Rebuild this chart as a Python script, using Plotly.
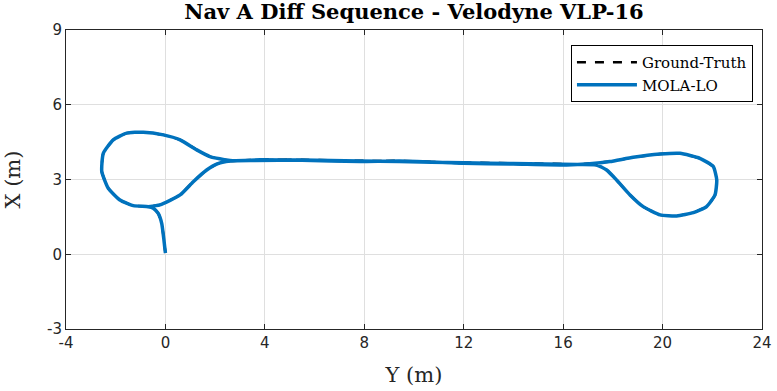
import plotly.graph_objects as go

# Trajectory (horizontal axis = Y [m], vertical axis = X [m])
mola_y = [0.0, -0.03, -0.06, -0.15, -0.29, -0.49, -0.69, -1.29, -1.83, -2.30, -2.56, -2.50, -2.10,
          -1.56, -0.89, -0.08, 0.59, 1.26, 1.79, 2.60, 3.81, 5.5, 7.83, 9.42, 11.98, 14.0,
          16.14, 17.07, 17.88, 18.82, 19.9, 20.7, 21.5, 22.04, 22.18, 22.11, 21.77, 21.24,
          20.57, 19.9, 19.22, 18.69, 18.15, 17.75, 17.35, 16.6, 14.0, 12.0, 9.4, 7.8, 5.5,
          3.6, 2.60, 2.06, 1.66, 1.12, 0.59, -0.22, -0.69]
mola_x = [0.05, 0.30, 0.57, 1.24, 1.64, 1.85, 1.91, 1.95, 2.18, 2.65, 3.32, 4.05, 4.59,
          4.86, 4.90, 4.79, 4.59, 4.19, 3.92, 3.76, 3.79, 3.77, 3.72, 3.74, 3.65, 3.62,
          3.58, 3.63, 3.72, 3.89, 4.02, 4.05, 3.85, 3.52, 2.98, 2.38, 1.91, 1.67,
          1.54, 1.58, 1.91, 2.38, 2.98, 3.38, 3.58, 3.60, 3.64, 3.67, 3.72, 3.74, 3.78,
          3.76, 3.74, 3.62, 3.38, 2.91, 2.38, 1.98, 1.91]

gt_y = list(mola_y)
gt_x = [0.05, 0.30, 0.57, 1.24, 1.64, 1.85, 1.91, 1.95, 2.18, 2.65, 3.32, 4.05, 4.59,
        4.86, 4.90, 4.79, 4.59, 4.19, 3.92, 3.76, 3.80, 3.78, 3.73, 3.75, 3.66, 3.63,
        3.59, 3.64, 3.72, 3.89, 4.02, 4.05, 3.85, 3.52, 2.98, 2.38, 1.91, 1.67,
        1.54, 1.58, 1.91, 2.38, 2.98, 3.38, 3.58, 3.61, 3.65, 3.68, 3.73, 3.75, 3.79,
        3.77, 3.74, 3.62, 3.38, 2.91, 2.38, 1.98, 1.91]

x_ticks = [-4, 0, 4, 8, 12, 16, 20, 24]
y_ticks = [-3, 0, 3, 6, 9]

serif = "DejaVu Serif"
sans = "DejaVu Sans"

fig = go.Figure()
fig.add_trace(go.Scatter(x=gt_y, y=gt_x, mode="lines", name="Ground-Truth",
                         line=dict(color="black", width=2.5, dash="dash", shape="spline", smoothing=0.5)))
fig.add_trace(go.Scatter(x=mola_y, y=mola_x, mode="lines", name="MOLA-LO",
                         line=dict(color="#0072BD", width=3.5, shape="spline", smoothing=0.5)))

axis_common = dict(showgrid=True, gridcolor="#DFDFDF", gridwidth=1, zeroline=False,
                   showline=True, linecolor="#262626", linewidth=1, mirror="ticks",
                   ticks="inside", ticklen=5, tickcolor="#262626", automargin=False,
                   tickfont=dict(family=sans, size=15, color="#262626"))

fig.update_layout(
    width=777, height=391,
    margin=dict(l=66, r=15, t=30, b=62, autoexpand=False),
    paper_bgcolor="white", plot_bgcolor="white",
    title=dict(text="<b>Nav A Diff Sequence - Velodyne VLP-16</b>",
               font=dict(family=serif, size=21, color="black"),
               x=(66 + 762) / 2 / 777, xanchor="center", y=1 - 12 / 391, yanchor="middle",
               automargin=False),
    xaxis=dict(range=[-4, 24], tickvals=x_ticks, ticktext=[str(v) for v in x_ticks],
               title=dict(text="Y (m)", font=dict(family=serif, size=21, color="#262626"), standoff=16),
               **axis_common),
    yaxis=dict(range=[-3, 9], tickvals=y_ticks, ticktext=[str(v) for v in y_ticks],
               title=dict(text="X (m)", font=dict(family=serif, size=21, color="#262626"), standoff=20),
               **axis_common),
    legend=dict(x=0.987, y=0.95, xanchor="right", yanchor="top",
                bgcolor="white", bordercolor="black", borderwidth=1,
                font=dict(family=serif, size=15, color="black"),
                itemwidth=60, tracegroupgap=0),
    showlegend=True,
)

fig.write_html("out.html", config={"displayModeBar": False},
               post_script="document.body.style.margin='0';document.body.style.padding='0';")
